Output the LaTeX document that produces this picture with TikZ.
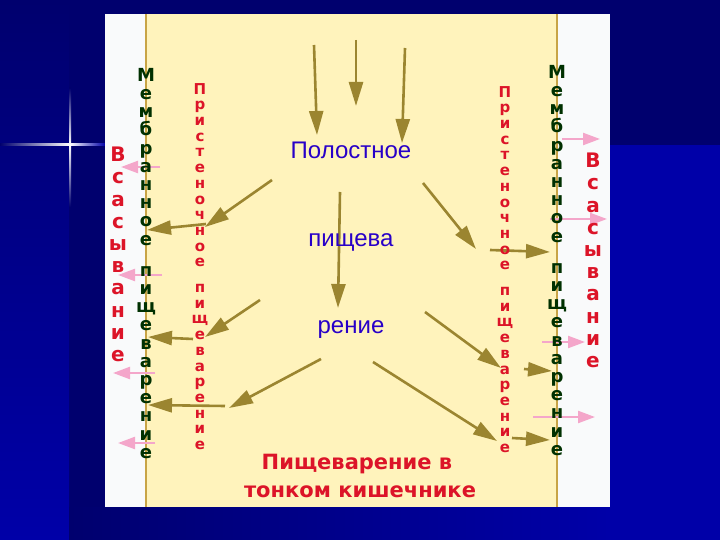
\documentclass[tikz,border=0pt]{standalone}
\usepackage{fontspec}
\usepackage{tikz}
\usetikzlibrary{arrows.meta}
\newfontfamily\verdf{DejaVu Sans}
\newfontfamily\arialf{Liberation Sans}
\definecolor{navy}{RGB}{0,0,110}
\definecolor{midblue}{RGB}{0,0,168}
\definecolor{panelwhite}{RGB}{249,250,251}
\definecolor{beige}{RGB}{255,243,188}
\definecolor{rim}{RGB}{200,164,70}
\definecolor{olive}{RGB}{155,133,48}
\definecolor{rose}{RGB}{244,166,202}
\definecolor{textblue}{RGB}{40,0,200}
\definecolor{textred}{RGB}{220,20,40}
\definecolor{textgreen}{RGB}{0,48,0}
\tikzset{
  food/.style={draw=olive, line width=2.6pt, -{Triangle[length=24pt,width=14pt]}},
  absorb/.style={draw=rose, line width=2.2pt, -{Triangle[length=17pt,width=12pt]}},
  column/.style={inner sep=0pt, anchor=north, align=center},
  greencol/.style={column, text=textgreen, font=\verdf\bfseries\fontsize{18}{18.2}\selectfont},
  redcol/.style={column, text=textred, font=\verdf\bfseries\fontsize{15}{15.7}\selectfont},
  suckcol/.style={column, text=textred, font=\verdf\bfseries\fontsize{20}{22.2}\selectfont},
  cavitytext/.style={inner sep=0pt, anchor=base, text=textblue, font=\arialf\fontsize{24}{24}\selectfont}
}
\begin{document}
\begin{tikzpicture}[x=1pt,y=-1pt]
\useasboundingbox (0,0) rectangle (720,540);
%Background
\fill[navy] (0,0) rectangle (720,540);
\shade[top color=navy, bottom color=midblue] (0,0) rectangle (69,540);
\fill[midblue] (610,145) rectangle (720,540);
\shade[left color=navy, right color=midblue] (69,507) rectangle (610,540);
\shade[left color=navy, right color=white] (0,144) rectangle (70,146);
\shade[left color=white, right color=blue!40!navy] (70,144) rectangle (105,146);
\shade[top color=navy, bottom color=white] (69,88) rectangle (71,145);
\shade[top color=white, bottom color=navy] (69,145) rectangle (71,207);
%Panel
\fill[panelwhite] (105,14) rectangle (610,507);
\fill[beige] (146,14) rectangle (557,507);
\draw[rim, line width=2pt] (146,14) -- (146,507);
\draw[rim, line width=2pt] (557,14) -- (557,507);
%Absorption
\draw[absorb] (160,167) -- (121,167);
\draw[absorb] (162,275) -- (118,275);
\draw[absorb] (155,373) -- (113,373);
\draw[absorb] (155,443) -- (118,443);
\draw[absorb] (562,139) -- (600,139);
\draw[absorb] (550,219) -- (607,219);
\draw[absorb] (542,342) -- (585,342);
\draw[absorb] (533,417) -- (595,417);
%Arrows
\draw[food] (314,45) -- (317,135);
\draw[food] (356,40) -- (356,106);
\draw[food] (405,48) -- (402,143);
\draw[food] (340,192) -- (338,308);
\draw[food] (272,180) -- (205,227);
\draw[food] (206,224) -- (147,230);
\draw[food] (260,300) -- (205,337);
\draw[food] (193,339) -- (148,337);
\draw[food] (321,359) -- (229,408);
\draw[food] (225,406) -- (148,405);
\draw[food] (423,183) -- (476,249);
\draw[food] (490,250) -- (550,252);
\draw[food] (425,312) -- (501,368);
\draw[food] (524,369) -- (552,371);
\draw[food] (373,362) -- (497,441);
\draw[food] (512,438) -- (550,440);
%Text
\node[cavitytext] (cav1) at (351,159) {Полостное};
\node[cavitytext] (cav2) at (351,247) {пищева};
\node[cavitytext] (cav3) at (351,333) {рение};
\node[suckcol] (suckL) at (118,147) {В\\с\\а\\с\\ы\\в\\а\\н\\и\\е};
\node[suckcol] (suckR) at (593,153) {В\\с\\а\\с\\ы\\в\\а\\н\\и\\е};
\node[greencol] (membL) at (146,68) {М\\е\\м\\б\\р\\а\\н\\н\\о\\е\\[13pt]п\\и\\щ\\е\\в\\а\\р\\е\\н\\и\\е};
\node[greencol] (membR) at (557,65) {М\\е\\м\\б\\р\\а\\н\\н\\о\\е\\[13pt]п\\и\\щ\\е\\в\\а\\р\\е\\н\\и\\е};
\node[redcol] (wallL) at (200,83) {П\\р\\и\\с\\т\\е\\н\\о\\ч\\н\\о\\е\\[10pt]п\\и\\щ\\е\\в\\а\\р\\е\\н\\и\\е};
\node[redcol] (wallR) at (505,86) {П\\р\\и\\с\\т\\е\\н\\о\\ч\\н\\о\\е\\[10pt]п\\и\\щ\\е\\в\\а\\р\\е\\н\\и\\е};
\node[inner sep=0pt, anchor=base, text=textred, font=\verdf\bfseries\fontsize{21}{21}\selectfont] (title1) at (357,469) {Пищеварение в};
\node[inner sep=0pt, anchor=base, text=textred, font=\verdf\bfseries\fontsize{21}{21}\selectfont] (title2) at (360,497) {тонком кишечнике};
\end{tikzpicture}
\end{document}
